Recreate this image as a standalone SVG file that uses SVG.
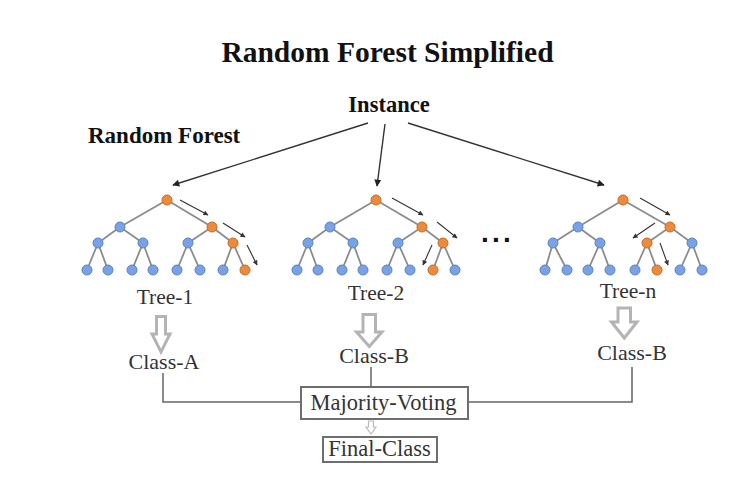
<svg xmlns="http://www.w3.org/2000/svg" width="756" height="485" viewBox="0 0 756 485">
<defs>
<marker id="ah" viewBox="0 0 10 10" refX="9" refY="5" markerWidth="9" markerHeight="7" markerUnits="userSpaceOnUse" orient="auto"><path d="M0,0 L10,5 L0,10 z" fill="#222"/></marker>
<marker id="ahs" viewBox="0 0 10 10" refX="9" refY="5" markerWidth="6" markerHeight="5" markerUnits="userSpaceOnUse" orient="auto"><path d="M0,0 L10,5 L0,10 z" fill="#333"/></marker>
<style>
.t{font-family:"Liberation Serif","Times New Roman",serif;fill:#333;text-anchor:middle}
.b{font-family:"Liberation Serif","Times New Roman",serif;font-weight:bold;fill:#111}
.e{stroke:#8c8c8c;stroke-width:1.8;fill:none}
.n{fill:#79a2e6;stroke:#5a82c6;stroke-width:1}
.o{fill:#ec8a3e;stroke:#c96a26;stroke-width:1}
.pa{stroke:#333;stroke-width:1.1;fill:none;marker-end:url(#ahs)}
.ma{stroke:#333;stroke-width:1.4;fill:none;marker-end:url(#ah)}
.ha{fill:#fff;stroke:#b4b4b4;stroke-width:3;stroke-linejoin:miter}
.c{stroke:#666;stroke-width:1.5;fill:none}
.bx{fill:#fff;stroke:#6e6e6e;stroke-width:2}
</style>
</defs>
<rect width="756" height="485" fill="#fff"/>
<text class="b" x="387.5" y="62" font-size="29.5" text-anchor="middle">Random Forest Simplified</text>
<text class="b" x="88" y="143" font-size="23">Random Forest</text>
<g id="instance"><text class="b" x="389" y="112" font-size="22.5" text-anchor="middle">Instance</text></g>

<g id="connectors">
<line class="ma" x1="368" y1="123" x2="173" y2="185"/>
<line class="ma" x1="385" y1="124" x2="377" y2="186"/>
<line class="ma" x1="408" y1="123" x2="604" y2="185"/>
<polyline class="c" points="163,373 163,402 301,402"/>
<polyline class="c" points="468,402 632,402 632,367"/>
<line class="c" x1="371" y1="367" x2="371" y2="387"/>
<polygon class="ha" points="156.5,316.5 165.5,316.5 165.5,334 170,334 161,352 152,334 156.5,334"/>
<polygon class="ha" points="363,314.5 375.5,314.5 375.5,332 382,332 369.3,346.5 356.5,332 363,332"/>
<polygon class="ha" points="618,308 630.5,308 630.5,322 637,322 624.3,338 611.5,322 618,322"/>
<polygon fill="#fff" stroke="#bbb" stroke-width="1.2" points="368.5,421 373.5,421 373.5,427 376,427 371,434 366,427 368.5,427"/>
</g>

<g id="tree-1">
<path class="e" d="M167,200 L120,227 M167,200 L212,227 M120,227 L98,243 M120,227 L143,243 M212,227 L188,243 M212,227 L233,243 M98,243 L87,270 M98,243 L108,270 M143,243 L132,270 M143,243 L153,270 M188,243 L177,270 M188,243 L200,270 M233,243 L223,270 M233,243 L245,270"/>
<circle class="o" cx="167" cy="200" r="5"/>
<circle class="n" cx="120" cy="227" r="5"/><circle class="o" cx="212" cy="227" r="5"/>
<circle class="n" cx="98" cy="243" r="5"/><circle class="n" cx="143" cy="243" r="5"/><circle class="n" cx="188" cy="243" r="5"/><circle class="o" cx="233" cy="243" r="5"/>
<circle class="n" cx="87" cy="270" r="5"/><circle class="n" cx="108" cy="270" r="5"/><circle class="n" cx="132" cy="270" r="5"/><circle class="n" cx="153" cy="270" r="5"/><circle class="n" cx="177" cy="270" r="5"/><circle class="n" cx="200" cy="270" r="5"/><circle class="n" cx="223" cy="270" r="5"/><circle class="o" cx="245" cy="270" r="5"/>
<line class="pa" x1="180" y1="200" x2="208" y2="215"/>
<line class="pa" x1="223" y1="223" x2="245" y2="237"/>
<line class="pa" x1="247" y1="245" x2="257" y2="265"/>
<text class="t" x="165" y="304" font-size="21.5">Tree-1</text>
</g>

<g id="tree-2">
<path class="e" d="M376,200 L330,227 M376,200 L422,227 M330,227 L308,243 M330,227 L353,243 M422,227 L398,243 M422,227 L443,243 M308,243 L297,270 M308,243 L318,270 M353,243 L342,270 M353,243 L363,270 M398,243 L387,270 M398,243 L410,270 M443,243 L433,270 M443,243 L455,270"/>
<circle class="o" cx="376" cy="200" r="5"/>
<circle class="n" cx="330" cy="227" r="5"/><circle class="o" cx="422" cy="227" r="5"/>
<circle class="n" cx="308" cy="243" r="5"/><circle class="n" cx="353" cy="243" r="5"/><circle class="n" cx="398" cy="243" r="5"/><circle class="o" cx="443" cy="243" r="5"/>
<circle class="n" cx="297" cy="270" r="5"/><circle class="n" cx="318" cy="270" r="5"/><circle class="n" cx="342" cy="270" r="5"/><circle class="n" cx="363" cy="270" r="5"/><circle class="n" cx="387" cy="270" r="5"/><circle class="n" cx="410" cy="270" r="5"/><circle class="o" cx="433" cy="270" r="5"/><circle class="n" cx="455" cy="270" r="5"/>
<line class="pa" x1="392" y1="198" x2="423" y2="215"/>
<line class="pa" x1="437" y1="222" x2="457" y2="238"/>
<line class="pa" x1="432" y1="245" x2="423" y2="265"/>
<text class="t" x="376" y="300" font-size="21.5">Tree-2</text>
</g>

<g id="ellipsis"><text x="481" y="242" font-family="Liberation Sans, Arial, sans-serif" font-weight="bold" font-size="28" letter-spacing="3.2" fill="#111">...</text></g>

<g id="tree-n">
<path class="e" d="M623,200 L578,227 M623,200 L670,227 M578,227 L553,243 M578,227 L600,243 M670,227 L647,243 M670,227 L692,243 M553,243 L545,270 M553,243 L567,270 M600,243 L588,270 M600,243 L610,270 M647,243 L635,270 M647,243 L657,270 M692,243 L680,270 M692,243 L702,270"/>
<circle class="o" cx="623" cy="200" r="5"/>
<circle class="n" cx="578" cy="227" r="5"/><circle class="o" cx="670" cy="227" r="5"/>
<circle class="n" cx="553" cy="243" r="5"/><circle class="n" cx="600" cy="243" r="5"/><circle class="o" cx="647" cy="243" r="5"/><circle class="n" cx="692" cy="243" r="5"/>
<circle class="n" cx="545" cy="270" r="5"/><circle class="n" cx="567" cy="270" r="5"/><circle class="n" cx="588" cy="270" r="5"/><circle class="n" cx="610" cy="270" r="5"/><circle class="n" cx="635" cy="270" r="5"/><circle class="o" cx="657" cy="270" r="5"/><circle class="n" cx="680" cy="270" r="5"/><circle class="n" cx="702" cy="270" r="5"/>
<line class="pa" x1="640" y1="198" x2="670" y2="215"/>
<line class="pa" x1="655" y1="223" x2="633" y2="238"/>
<line class="pa" x1="660" y1="243" x2="668" y2="265"/>
<text class="t" x="628" y="298" font-size="21.5">Tree-n</text>
</g>

<g id="class-a"><text class="t" x="164" y="369" font-size="22">Class-A</text></g>
<g id="class-b-2"><text class="t" x="374" y="363" font-size="22">Class-B</text></g>
<g id="class-b-n"><text class="t" x="632" y="360" font-size="22">Class-B</text></g>

<g id="majority-voting">
<rect class="bx" x="301" y="387" width="167" height="32"/>
<text class="t" x="383.5" y="410" font-size="22.5">Majority-Voting</text>
</g>
<g id="final-class">
<rect class="bx" x="323" y="437" width="114" height="25"/>
<text class="t" x="379.5" y="456" font-size="22.5">Final-Class</text>
</g>
</svg>
